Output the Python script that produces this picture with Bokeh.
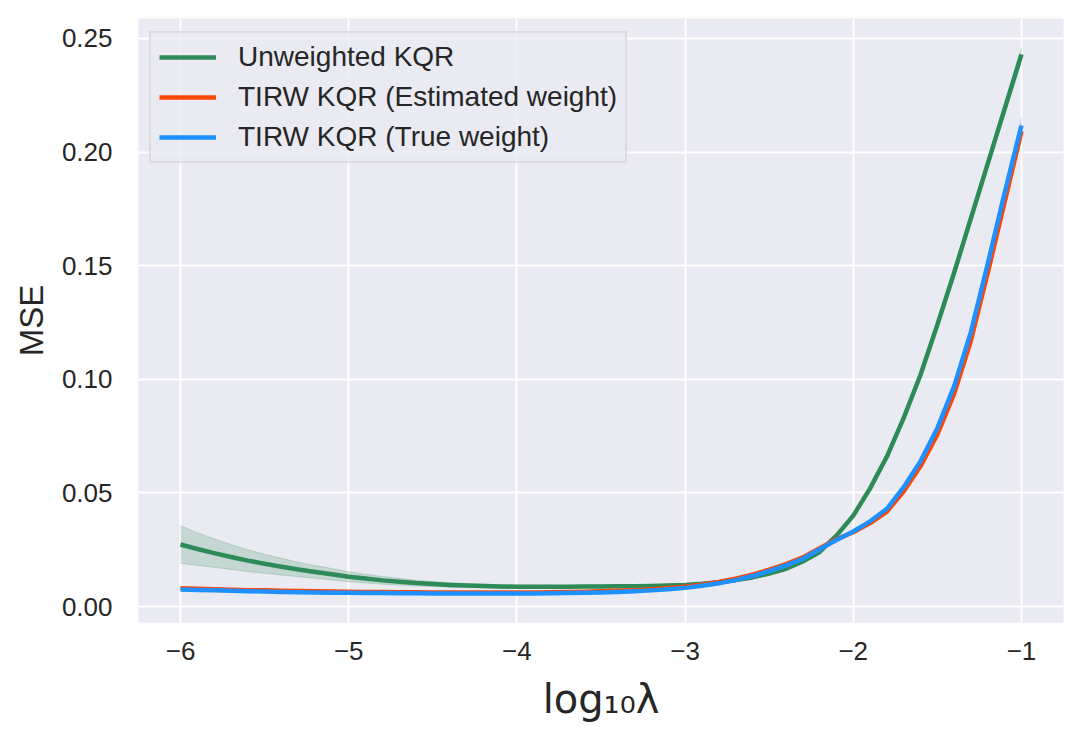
from bokeh.plotting import figure
from bokeh.models import FixedTicker, Legend, LegendItem, Range1d
from bokeh.embed import file_html
from bokeh.resources import INLINE

# ---- data ----
LOG_LAMBDA = [-6.0, -5.9, -5.8, -5.7, -5.6, -5.5, -5.4, -5.3, -5.2, -5.1,
              -5.0, -4.9, -4.8, -4.7, -4.6, -4.5, -4.4, -4.3, -4.2, -4.1,
              -4.0, -3.9, -3.8, -3.7, -3.6, -3.5, -3.4, -3.3, -3.2, -3.1,
              -3.0, -2.9, -2.8, -2.7, -2.6, -2.5, -2.4, -2.3, -2.2, -2.1,
              -2.0, -1.9, -1.8, -1.7, -1.6, -1.5, -1.4, -1.3, -1.2, -1.1,
              -1.0]

UNWEIGHTED = [0.0273, 0.0253, 0.0235, 0.0218, 0.0202, 0.0188, 0.0175, 0.0163, 0.0152, 0.0142,
              0.0131, 0.0123, 0.0115, 0.0109, 0.0103, 0.0099, 0.0095, 0.0092, 0.0090, 0.0088,
              0.0087, 0.0087, 0.0087, 0.0087, 0.0088, 0.0088, 0.0089, 0.0089, 0.0090, 0.0092,
              0.0095, 0.0100, 0.0107, 0.0116, 0.0128, 0.0145, 0.0166, 0.0198, 0.0240, 0.0312,
              0.0400, 0.0520, 0.0660, 0.0830, 0.1020, 0.1240, 0.1470, 0.1710, 0.1950, 0.2190,
              0.2430]
UNWEIGHTED_CI = [0.0083, 0.0072, 0.0063, 0.0055, 0.0048, 0.0042, 0.0037, 0.0032, 0.0028, 0.0025,
                 0.0022, 0.0019, 0.0017, 0.0015, 0.0013, 0.0011, 0.0010, 0.0009, 0.0008, 0.0008,
                 0.0007, 0.0007, 0.0006, 0.0006, 0.0006, 0.0006, 0.0006, 0.0006, 0.0006, 0.0006,
                 0.0006, 0.0006, 0.0006, 0.0006, 0.0006, 0.0006, 0.0007, 0.0007, 0.0008, 0.0008,
                 0.0009, 0.0010, 0.0011, 0.0012, 0.0014, 0.0016, 0.0018, 0.0020, 0.0022, 0.0026,
                 0.0030]

TIRW_EST = [0.0080, 0.0078, 0.0076, 0.0074, 0.0072, 0.0071, 0.0069, 0.0068, 0.0067, 0.0066,
            0.0065, 0.0064, 0.0064, 0.0063, 0.0063, 0.0062, 0.0062, 0.0062, 0.0062, 0.0062,
            0.0062, 0.0062, 0.0063, 0.0064, 0.0065, 0.0067, 0.0069, 0.0072, 0.0076, 0.0081,
            0.0087, 0.0096, 0.0108, 0.0122, 0.0140, 0.0162, 0.0187, 0.0216, 0.0257, 0.0296,
            0.0327, 0.0367, 0.0418, 0.0507, 0.0618, 0.0757, 0.0937, 0.1172, 0.1470, 0.1780,
            0.2092]
TIRW_TRUE = [0.0075, 0.0073, 0.0071, 0.0069, 0.0067, 0.0066, 0.0064, 0.0063, 0.0062, 0.0061,
             0.0060, 0.0059, 0.0059, 0.0058, 0.0058, 0.0057, 0.0057, 0.0057, 0.0057, 0.0057,
             0.0057, 0.0057, 0.0058, 0.0059, 0.0060, 0.0062, 0.0064, 0.0067, 0.0071, 0.0076,
             0.0082, 0.0091, 0.0102, 0.0116, 0.0134, 0.0156, 0.0181, 0.0210, 0.0252, 0.0293,
             0.0330, 0.0375, 0.0430, 0.0525, 0.0640, 0.0785, 0.0970, 0.1210, 0.1510, 0.1820,
             0.2117]
TIRW_CI = [0.0005, 0.0005, 0.0005, 0.0004, 0.0004, 0.0004, 0.0004, 0.0004, 0.0004, 0.0004,
           0.0004, 0.0004, 0.0004, 0.0004, 0.0004, 0.0004, 0.0004, 0.0004, 0.0004, 0.0004,
           0.0004, 0.0004, 0.0004, 0.0004, 0.0004, 0.0004, 0.0004, 0.0004, 0.0004, 0.0004,
           0.0004, 0.0004, 0.0004, 0.0004, 0.0005, 0.0005, 0.0005, 0.0005, 0.0006, 0.0006,
           0.0006, 0.0007, 0.0008, 0.0009, 0.0010, 0.0012, 0.0015, 0.0018, 0.0022, 0.0028,
           0.0035]

SERIES_NAMES = ["Unweighted KQR", "TIRW KQR (Estimated weight)", "TIRW KQR (True weight)"]
SERIES_COLORS = ["#2E8B57", "#FF4500", "#1E90FF"]

X_TICKS = [-6, -5, -4, -3, -2, -1]
X_TICK_LABELS = ["\u22126", "\u22125", "\u22124", "\u22123", "\u22122", "\u22121"]
Y_TICKS = [0.0, 0.05, 0.10, 0.15, 0.20, 0.25]
Y_TICK_LABELS = ["0.00", "0.05", "0.10", "0.15", "0.20", "0.25"]

X_LABEL = "log\u2081\u2080\u03bb"
Y_LABEL = "MSE"

X_MIN, X_MAX = -6.25, -0.75
Y_MIN, Y_MAX = -0.00704, 0.2588

# ---- figure ----
p = figure(frame_width=925, frame_height=604,
           x_range=Range1d(X_MIN, X_MAX), y_range=Range1d(Y_MIN, Y_MAX),
           output_backend="svg", toolbar_location=None,
           min_border_left=138, min_border_right=14, min_border_top=18, min_border_bottom=100,
           background_fill_color="#EAEAF2", border_fill_color="white", outline_line_color=None)

p.grid.grid_line_color = "white"
p.grid.grid_line_width = 2

TEXT_COLOR = "#262626"
for ax in (p.xaxis, p.yaxis):
    ax.axis_line_color = None
    ax.major_tick_line_color = None
    ax.minor_tick_line_color = None
    ax.major_label_text_font = "Liberation Sans"
    ax.major_label_text_font_size = "26px"
    ax.major_label_text_color = TEXT_COLOR
    ax.axis_label_text_color = TEXT_COLOR
    ax.axis_label_text_font_style = "normal"

p.xaxis.ticker = FixedTicker(ticks=X_TICKS)
p.xaxis.major_label_overrides = {t: l for t, l in zip(X_TICKS, X_TICK_LABELS)}
p.yaxis.ticker = FixedTicker(ticks=Y_TICKS)
p.yaxis.major_label_overrides = {t: l for t, l in zip(Y_TICKS, Y_TICK_LABELS)}
p.xaxis.major_label_standoff = 13
p.yaxis.major_label_standoff = 20

p.xaxis.axis_label = X_LABEL
p.xaxis.axis_label_text_font = "DejaVu Sans"
p.xaxis.axis_label_text_font_size = "40px"
p.xaxis.axis_label_standoff = 13
p.yaxis.axis_label = Y_LABEL
p.yaxis.axis_label_text_font = "Liberation Sans"
p.yaxis.axis_label_text_font_size = "33px"
p.yaxis.axis_label_standoff = 9

means = [UNWEIGHTED, TIRW_EST, TIRW_TRUE]
cis = [UNWEIGHTED_CI, TIRW_CI, TIRW_CI]

# confidence bands (below all lines)
for m, c, col in zip(means, cis, SERIES_COLORS):
    lo = [a - b for a, b in zip(m, c)]
    hi = [a + b for a, b in zip(m, c)]
    p.varea(x=LOG_LAMBDA, y1=lo, y2=hi, fill_color=col, fill_alpha=0.2)
    p.line(x=LOG_LAMBDA, y=lo, line_color=col, line_alpha=0.2, line_width=1)
    p.line(x=LOG_LAMBDA, y=hi, line_color=col, line_alpha=0.2, line_width=1)

items = []
for m, col, name in zip(means, SERIES_COLORS, SERIES_NAMES):
    r = p.line(x=LOG_LAMBDA, y=m, line_color=col, line_width=4.5, line_join="round")
    items.append(LegendItem(label=name, renderers=[r]))

legend = Legend(items=items, location=(11, 459))
legend.margin = 0
legend.padding = 8
legend.border_line_color = "#CCCCCC"
legend.border_line_width = 2
legend.background_fill_color = "#EAEAF2"
legend.background_fill_alpha = 0.8
legend.label_text_font = "Liberation Sans"
legend.label_text_font_size = "28px"
legend.label_text_color = TEXT_COLOR
legend.glyph_width = 57
legend.glyph_height = 30
legend.label_height = 30
legend.label_standoff = 22
legend.spacing = 8
p.add_layout(legend)

open("out.html", "w").write(file_html(p, INLINE))
